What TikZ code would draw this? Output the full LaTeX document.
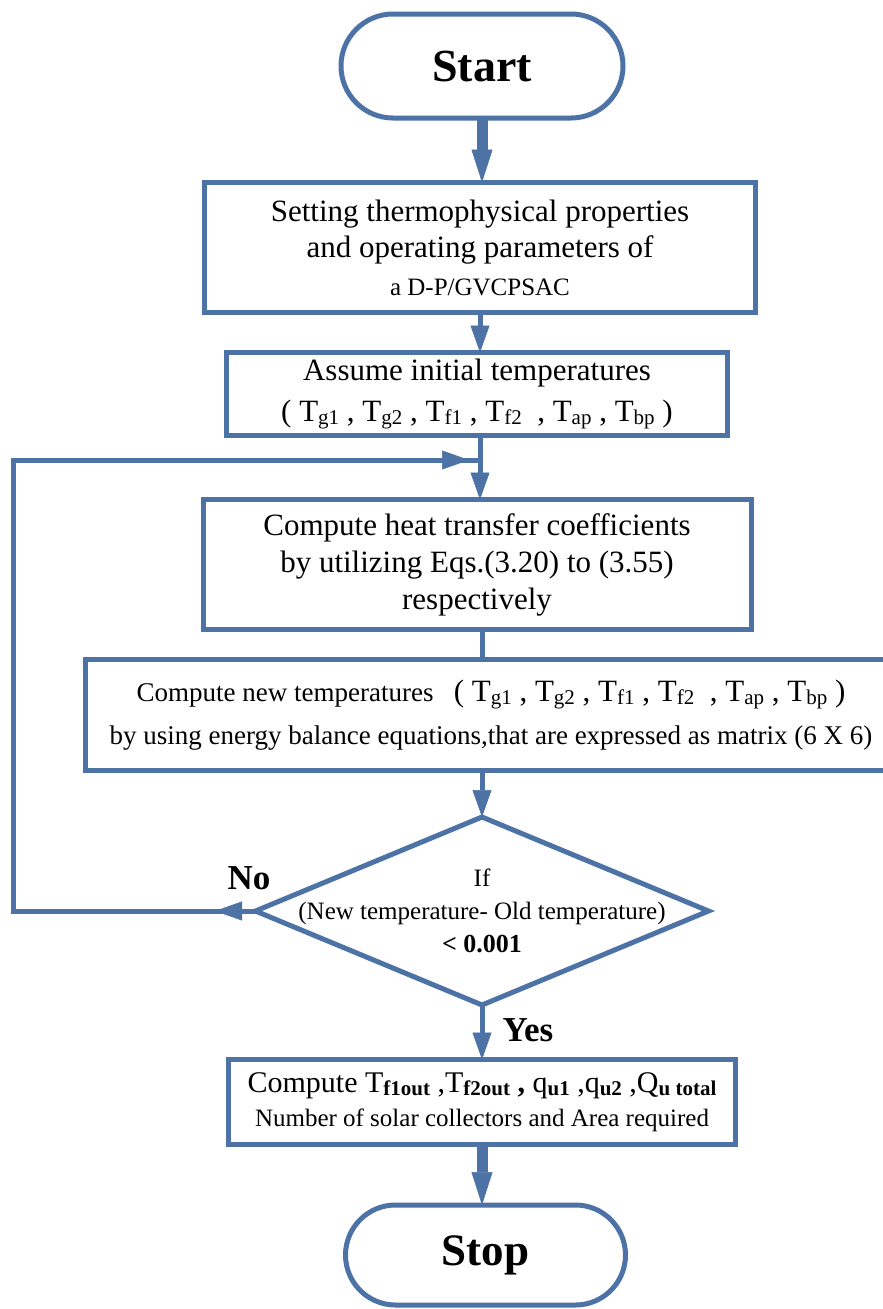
\documentclass[tikz,border=0pt]{standalone}
\usepackage{fontspec}
\setmainfont{Liberation Serif}
\usetikzlibrary{arrows.meta,shapes.geometric,shapes.misc}
\definecolor{fcblue}{RGB}{76,114,166}
\newcommand{\sbs}[1]{\raisebox{-3pt}{\fontsize{21}{21}\selectfont #1}}
\begin{document}
\begin{tikzpicture}[x=1pt,y=-1pt,
  every node/.style={inner sep=0pt, outer sep=0pt},
  box/.style={draw=fcblue, line width=5pt, rectangle, align=center},
  term/.style={draw=fcblue, line width=5pt, rounded rectangle, align=center, font=\fontsize{46}{50}\selectfont\bfseries},
  dec/.style={draw=fcblue, line width=5pt, diamond},
  conn/.style={draw=fcblue, line width=5pt},
  arr/.style={conn, -{Triangle[width=19pt,length=27pt,line width=0.5pt]}},
  thickarr/.style={draw=fcblue, line width=11pt, -{Triangle[width=21pt,length=33pt,line width=0.5pt]}},
  lbl/.style={font=\fontsize{35}{40}\selectfont\bfseries},
]
\clip (0,0) rectangle (883,1309);

% nodes
\node[term, minimum width=282, minimum height=104] (start) at (482,66) {Start};
\node[box, minimum width=551, minimum height=130, font=\fontsize{31}{36}\selectfont] (b1) at (480,247.5)
  {Setting thermophysical properties\\ and operating parameters of\\[2pt] {\fontsize{25}{30}\selectfont a D-P/GVCPSAC}};
\node[box, minimum width=501, minimum height=83, font=\fontsize{31}{41}\selectfont] (b2) at (477,394)
  {Assume initial temperatures\\ ( T\sbs{g1} , T\sbs{g2} , T\sbs{f1} , T\sbs{f2}\ \ , T\sbs{ap} , T\sbs{bp} )};
\node[box, minimum width=548, minimum height=130, font=\fontsize{31}{37}\selectfont] (b3) at (477,564.5)
  {Compute heat transfer coefficients\\ by utilizing Eqs.(3.20) to (3.55)\\ respectively};
\node[box, minimum width=811, minimum height=111, font=\fontsize{27}{43}\selectfont] (b4) at (491,715)
  {Compute new temperatures\ \ \ {\fontsize{31}{36}\selectfont( T\sbs{g1} , T\sbs{g2} , T\sbs{f1} , T\sbs{f2}\ \ , T\sbs{ap} , T\sbs{bp} )}\hspace{14pt}\\
   by using energy balance equations,that are expressed as matrix (6 X 6)};
\node[dec, minimum width=453, minimum height=188,
  label={[align=center, font=\fontsize{25}{33}\selectfont]center:If\\(New temperature- Old temperature)\\{\fontsize{26}{33}\selectfont\bfseries < 0.001}}] (dia) at (482,911) {};
\node[box, minimum width=507, minimum height=85] (b5) at (482,1102)
  {{\fontsize{30}{37}\selectfont Compute T\sbs{\bfseries f1out} ,T\sbs{\bfseries f2out} \textbf{,} q\sbs{\bfseries u1} ,q\sbs{\bfseries u2} ,Q\sbs{\bfseries u total}}\\[9pt]
   {\fontsize{25}{30}\selectfont Number of solar collectors and Area required}};
\node[term, minimum width=280, minimum height=100, font=\fontsize{45}{50}\selectfont\bfseries] (stop) at (485.5,1255) {Stop};

\node[lbl] (no) at (249,878) {No};
\node[lbl] (yes) at (528,1030) {Yes};

% loop coordinates
\coordinate (nt) at (215,911);
\coordinate (c1) at (13,911);
\coordinate (c2) at (13,460);
\coordinate (jn) at (480,460);
\coordinate (jt) at (469,460);

% connectors
\draw[thickarr] (start.south) -- (start.south |- b1.north);
\draw[arr] (b1.south) -- (b1.south |- b2.north);
\draw[arr] (b1.south |- b2.south) -- (b1.south |- b3.north);
\draw[conn] (dia.west) -- (c1) -- (c2) -- (jn);
\draw[arr] (dia.west) -- (nt);
\draw[arr] (c2) -- (jt);
\draw[conn] (dia.north |- b3.south) -- (dia.north |- b4.north);
\draw[arr] (dia.north |- b4.south) -- (dia.north);
\draw[arr] (dia.south) -- (dia.south |- b5.north);
\draw[thickarr] (b5.south) -- (b5.south |- stop.north);
\end{tikzpicture}
\end{document}
